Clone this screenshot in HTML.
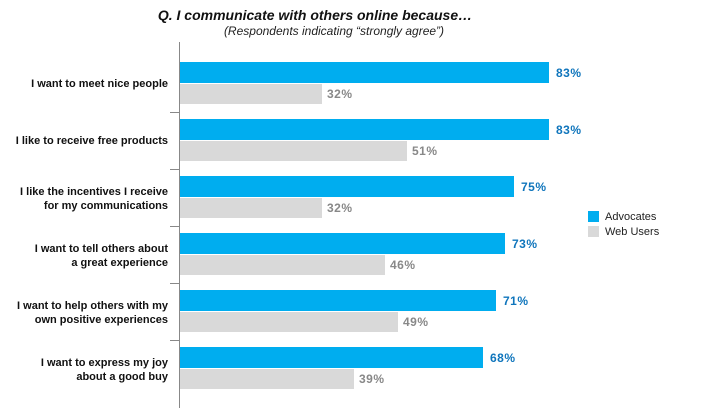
<!DOCTYPE html>
<html><head><style>body{margin:0;background:#fff}svg{display:block}</style></head><body>
<svg width="717" height="419" xmlns="http://www.w3.org/2000/svg" font-family="Liberation Sans, sans-serif">
<text x="315" y="20" text-anchor="middle" font-size="14" font-weight="bold" font-style="italic" fill="#111">Q. I communicate with others online because…</text>
<text x="334" y="35" text-anchor="middle" font-size="12" font-style="italic" fill="#222">(Respondents indicating “strongly agree”)</text>
<g stroke="#888" stroke-width="1">
<line x1="179.5" y1="42" x2="179.5" y2="408"/>
<line x1="170" y1="112.5" x2="179" y2="112.5"/>
<line x1="170" y1="169.5" x2="179" y2="169.5"/>
<line x1="170" y1="226.5" x2="179" y2="226.5"/>
<line x1="170" y1="283.5" x2="179" y2="283.5"/>
<line x1="170" y1="340.5" x2="179" y2="340.5"/>
</g>
<g font-size="11" font-weight="bold" fill="#111" text-anchor="end">
<text x="168" y="87">I want to meet nice people</text>
<text x="168" y="144">I like to receive free products</text>
<text x="168" y="195">I like the incentives I receive</text>
<text x="168" y="209">for my communications</text>
<text x="168" y="252">I want to tell others about</text>
<text x="168" y="266">a great experience</text>
<text x="168" y="309">I want to help others with my</text>
<text x="168" y="323">own positive experiences</text>
<text x="168" y="366">I want to express my joy</text>
<text x="168" y="380">about a good buy</text>
</g>
<g fill="#00adef">
<rect x="180" y="62" width="369" height="21"/>
<rect x="180" y="119" width="369" height="21"/>
<rect x="180" y="176" width="334" height="21"/>
<rect x="180" y="233" width="325" height="21"/>
<rect x="180" y="290" width="316" height="21"/>
<rect x="180" y="347" width="303" height="21"/>
</g>
<g fill="#d9d9d9">
<rect x="180" y="84" width="142" height="20"/>
<rect x="180" y="141" width="227" height="20"/>
<rect x="180" y="198" width="142" height="20"/>
<rect x="180" y="255" width="205" height="20"/>
<rect x="180" y="312" width="218" height="20"/>
<rect x="180" y="369" width="174" height="20"/>
</g>
<g font-size="12" font-weight="bold" fill="#0f75bc" letter-spacing="0.5">
<text x="556" y="77">83%</text>
<text x="556" y="134">83%</text>
<text x="521" y="191">75%</text>
<text x="512" y="248">73%</text>
<text x="503" y="305">71%</text>
<text x="490" y="362">68%</text>
</g>
<g font-size="12" font-weight="bold" fill="#888" letter-spacing="0.5">
<text x="327" y="98">32%</text>
<text x="412" y="155">51%</text>
<text x="327" y="212">32%</text>
<text x="390" y="269">46%</text>
<text x="403" y="326">49%</text>
<text x="359" y="383">39%</text>
</g>
<rect x="588" y="211" width="11" height="11" fill="#00adef"/>
<rect x="588" y="226" width="11" height="11" fill="#d9d9d9"/>
<g font-size="11" fill="#222">
<text x="605" y="220">Advocates</text>
<text x="605" y="235">Web Users</text>
</g>
</svg>
</body></html>
